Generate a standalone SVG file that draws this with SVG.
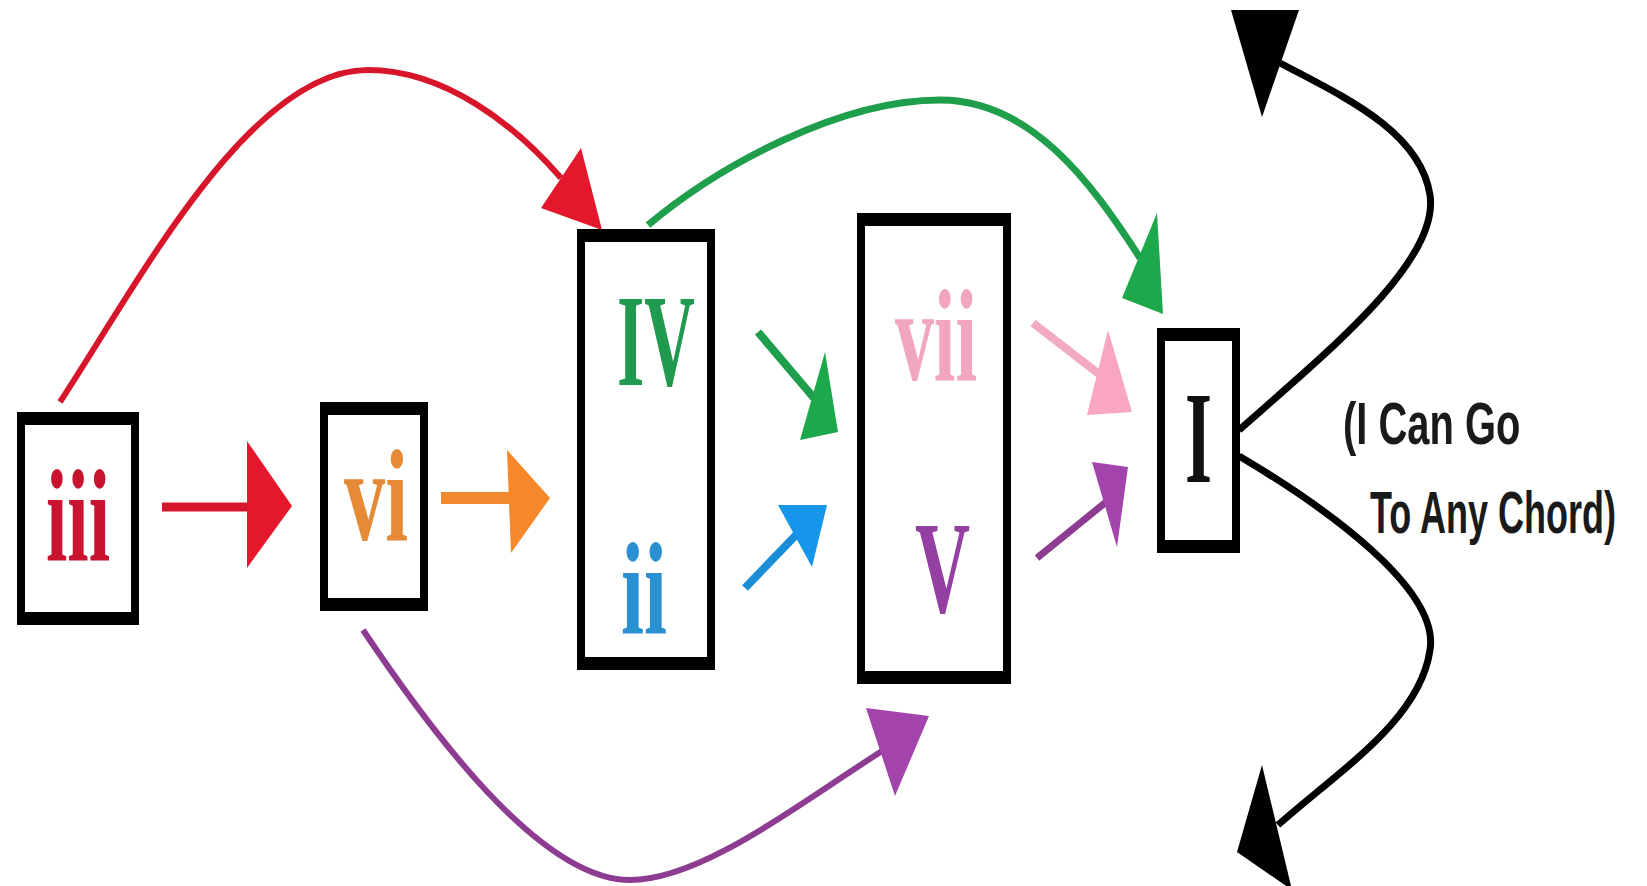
<svg xmlns="http://www.w3.org/2000/svg" width="1647" height="886" viewBox="0 0 1647 886">
<style>
  .frame{fill:#000}
  .inner{fill:#fff}
  .num{font-family:"Liberation Serif","Times New Roman",serif;font-size:132px;font-weight:bold}
  .note{font-family:"Liberation Sans","Arial",sans-serif;font-size:60px;font-weight:bold;fill:#1a1a1a}
  .ln{fill:none;stroke-linecap:butt}
  .red{stroke:#d8162b}.redf{fill:#e4172c}
  .org{stroke:#f28a30}.orgf{fill:#f7882a}
  .grn{stroke:#1f9e4b}.grnf{fill:#1ea84c}
  .blu{stroke:#1a8ed6}.bluf{fill:#1596ea}
  .pnk{stroke:#f2a9c2}.pnkf{fill:#f8a6c4}
  .pur{stroke:#8e3c92}.purf{fill:#a344ac}
  .blk{stroke:#000}.blkf{fill:#000}
</style>
<rect width="1647" height="886" fill="#fff"/>

<g id="connectors">
  <!-- iii -> vi straight -->
  <line class="ln red" x1="162" y1="507" x2="250" y2="507" stroke-width="9"/>
  <polygon class="redf" points="247,441 292,506 247,568"/>
  <!-- vi -> IV/ii straight -->
  <line class="ln org" x1="441" y1="498" x2="510" y2="498" stroke-width="12"/>
  <polygon class="orgf" points="507,450 550,498 511,553"/>
  <!-- iii -> IV curve -->
  <path class="ln red" d="M60,402 C140,280 250,70 368,70 C445,70 515,125 561,178" stroke-width="6"/>
  <polygon class="redf" points="602,230 581,148 541,208"/>
  <!-- IV -> I curve -->
  <path class="ln grn" d="M648,225 C720,165 840,100 940,100 C1030,100 1090,180 1140,258" stroke-width="7"/>
  <polygon class="grnf" points="1163,314 1157,213 1122,298"/>
  <!-- IV -> ii inside -->
  <path class="ln grn" d="M607,345 C597,400 590,440 600,486" stroke-width="5"/>
  <polygon class="grnf" points="608,532 617,462 583,507"/>
  <!-- IV -> V box -->
  <line class="ln grn" x1="758" y1="332" x2="814" y2="398" stroke-width="8"/>
  <polygon class="grnf" points="838,432 825,352 800,440"/>
  <!-- ii -> V box -->
  <line class="ln blu" x1="745" y1="588" x2="797" y2="534" stroke-width="8"/>
  <polygon class="bluf" points="827,505 778,505 812,567"/>
  <!-- vii -> I -->
  <line class="ln pnk" x1="1033" y1="323" x2="1099" y2="374" stroke-width="8"/>
  <polygon class="pnkf" points="1132,412 1108,330 1087,415"/>
  <!-- V -> I -->
  <line class="ln pur" x1="1037" y1="558" x2="1106" y2="502" stroke-width="7"/>
  <polygon class="purf" points="1128,467 1092,462 1117,547"/>
  <!-- vi -> V curve -->
  <path class="ln pur" d="M363,630 C430,730 540,880 630,880 C700,880 790,810 882,751" stroke-width="6"/>
  <polygon class="purf" points="929,716 866,708 895,796"/>
  <!-- I -> any chord (up) -->
  <path class="ln blk" d="M1239,430 C1330,350 1440,260 1430,195 C1420,130 1340,95 1280,63" stroke-width="7"/>
  <polygon class="blkf" points="1231,10 1299,10 1262,117"/>
  <!-- I -> any chord (down) -->
  <path class="ln blk" d="M1239,456 C1330,510 1440,590 1430,650 C1420,720 1340,770 1278,825" stroke-width="7"/>
  <polygon class="blkf" points="1262,765 1237,852 1292,890"/>
</g>

<g id="node-iii">
  <rect class="frame" x="17" y="412" width="122" height="213"/>
  <rect class="inner" x="25" y="425" width="106" height="187"/>
  <text class="num" x="46" y="560" fill="#c8142e" textLength="64" lengthAdjust="spacingAndGlyphs">iii</text>
</g>
<g id="node-vi">
  <rect class="frame" x="320" y="402" width="108" height="209"/>
  <rect class="inner" x="328" y="415" width="92" height="183"/>
  <text class="num" x="344" y="540" fill="#e58a36" textLength="64" lengthAdjust="spacingAndGlyphs">vi</text>
</g>
<g id="node-IV-ii">
  <rect class="frame" x="577" y="229" width="138" height="441"/>
  <rect class="inner" x="585" y="242" width="122" height="415"/>
  <text class="num" x="617" y="385" fill="#1f9a4f" textLength="78" lengthAdjust="spacingAndGlyphs">IV</text>
  <text class="num" x="621" y="633" fill="#2a90d2" textLength="46" lengthAdjust="spacingAndGlyphs">ii</text>
</g>
<g id="node-vii-V">
  <rect class="frame" x="857" y="213" width="154" height="471"/>
  <rect class="inner" x="865" y="226" width="138" height="445"/>
  <text class="num" x="895" y="380" fill="#f2a5be" textLength="82" lengthAdjust="spacingAndGlyphs">vii</text>
  <text class="num" x="915" y="612" fill="#9440a2" textLength="55" lengthAdjust="spacingAndGlyphs">V</text>
</g>
<g id="node-I">
  <rect class="frame" x="1157" y="328" width="83" height="225"/>
  <rect class="inner" x="1165" y="341" width="67" height="199"/>
  <text class="num" x="1185" y="482" fill="#111" textLength="27" lengthAdjust="spacingAndGlyphs">I</text>
</g>
<g id="note">
  <text class="note" transform="translate(1343,444) scale(0.665,1)">(I Can Go</text>
  <text class="note" transform="translate(1370,533) scale(0.6,1)">To Any Chord)</text>
</g>
</svg>
